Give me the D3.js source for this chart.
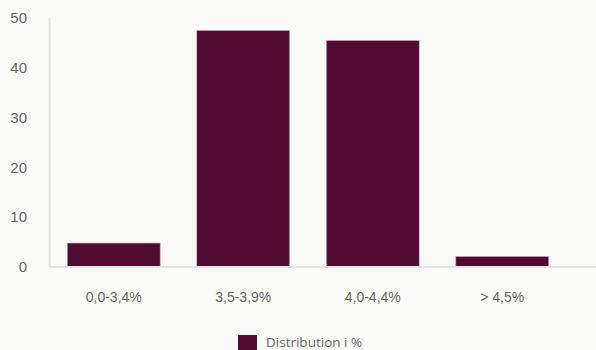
<!DOCTYPE html>
<html>
<head>
<meta charset="utf-8">
<script src="https://cdn.jsdelivr.net/npm/d3@7"></script>
<style>
  html, body { margin: 0; padding: 0; background: #fafaf8; }
  svg { display: block; font-family: "Open Sans", "Noto Sans", sans-serif; }
</style>
</head>
<body>
<div id="chart"></div>
<script>
/* Data */
const categories = ["0,0-3,4%", "3,5-3,9%", "4,0-4,4%", "> 4,5%"];
const values = [4.8, 47.4, 45.4, 2.1];
const yTicks = [0, 10, 20, 30, 40, 50];
const seriesName = "Distribution i %";

const width = 596, height = 350;
const margin = {top: 17.5, right: 29, bottom: 83, left: 49};

const barColor = "#510b30";
const textColor = "#666666";
const axisColor = "#e4e4e2";

const svg = d3.select("#chart")
    .append("svg")
        .attr("width", width)
        .attr("height", height);

/* Scales */
const x = d3.scaleBand()
    .domain(categories)
    .range([margin.left, width - margin.right])
    .paddingInner(0.283)
    .paddingOuter(0.1415);

const y = d3.scaleLinear()
    .domain([0, 50])
    .range([height - margin.bottom, margin.top]);

/* Bars */
svg.append("g")
    .selectAll("rect")
    .data(values)
    .join("rect")
        .attr("x", (d, i) => x(categories[i]))
        .attr("y", d => y(d))
        .attr("width", x.bandwidth())
        .attr("height", d => y(0) - y(d))
        .attr("fill", barColor)
        .attr("stroke", "#c9a6b8")
        .attr("stroke-width", 0.6);

/* Y axis */
const yAxis = svg.append("g")
    .attr("transform", "translate(" + margin.left + ",0)")
    .call(d3.axisLeft(y).tickValues(yTicks).tickSize(0).tickPadding(22));
yAxis.select(".domain").attr("stroke", axisColor).attr("stroke-width", 2);
yAxis.selectAll("text")
    .attr("fill", textColor)
    .style("font-size", "15px");

/* X axis */
const xAxis = svg.append("g")
    .attr("transform", "translate(0," + y(0) + ")")
    .call(d3.axisBottom(x).tickSize(0).tickPadding(25));
xAxis.select(".domain")
    .attr("stroke", axisColor)
    .attr("stroke-width", 2)
    .attr("d", "M" + margin.left + ",0H" + width);
xAxis.selectAll("text")
    .attr("fill", textColor)
    .style("font-size", "14px");

/* Legend */
const legend = svg.append("g")
    .attr("transform", "translate(238,335)");
legend.append("rect")
    .attr("width", 19)
    .attr("height", 18)
    .attr("fill", barColor);
legend.append("text")
    .attr("x", 28)
    .attr("y", 12)
    .attr("fill", textColor)
    .style("font-size", "13.5px")
    .text(seriesName);
</script>
</body>
</html>
